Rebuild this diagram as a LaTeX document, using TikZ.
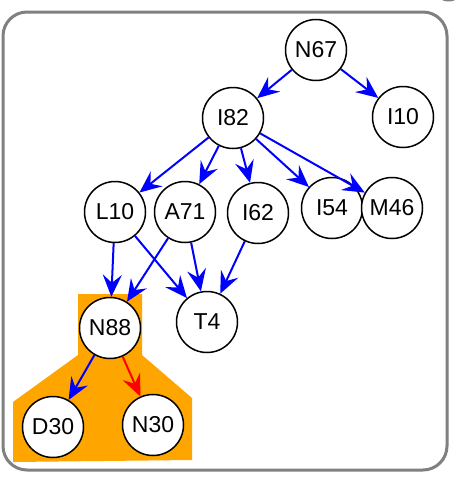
\documentclass[tikz,border=0pt]{standalone}
\usepackage{fontspec}
\setmainfont{Liberation Sans}
\usetikzlibrary{arrows.meta}
\definecolor{hl}{RGB}{255,165,0}
\definecolor{frm}{RGB}{128,128,128}
\begin{document}
\begin{tikzpicture}[x=1pt,y=-1pt,
  vtx/.style={circle,draw=black,line width=1.5pt,fill=white,minimum size=61pt,inner sep=0pt,font=\fontsize{23}{24}\selectfont},
  edg/.style={draw=blue,line width=2pt,-{Stealth[length=22pt,width=19pt,inset=8pt]}},
  redg/.style={edg,draw=red}]
\useasboundingbox (0,0) rectangle (457,490);
\fill[white] (0,0) rectangle (457,490);
\draw[frm,line width=3pt,rounded corners=24pt] (3,12) rectangle (447,470);
\draw[frm,line width=3pt] (443,-1) arc[start angle=110,end angle=55,radius=16];
\fill[hl] (78,294) -- (142,294) -- (142,355) -- (192,398) -- (192,460) -- (13,462) -- (13,402) -- (78,355) -- cycle;
\node[vtx] (N67) at (316,50) {N67};
\node[vtx] (I82) at (233,118) {I82};
\node[vtx] (I10) at (403,117) {I10};
\node[vtx] (L10) at (115,212) {L10};
\node[vtx] (A71) at (185,212) {A71};
\node[vtx] (I62) at (258,213) {I62};
\node[vtx] (I54) at (332,208) {I54};
\node[vtx] (M46) at (392,208) {M46};
\node[vtx] (N88) at (110,328) {N88};
\node[vtx] (T4) at (207,322) {T4};
\node[vtx] (D30) at (53,427) {D30};
\node[vtx] (N30) at (153,425) {N30};
\draw[edg] (N67) -- (I82);
\draw[edg] (N67) -- (I10);
\draw[edg] (I82) -- (L10);
\draw[edg] (I82) -- (A71);
\draw[edg] (I82) -- (I62);
\draw[edg] (I82) -- (I54);
\draw[edg] (I82) -- (M46);
\draw[edg] (L10) -- (N88);
\draw[edg] (L10) -- (T4);
\draw[edg] (A71) -- (N88);
\draw[edg] (A71) -- (T4);
\draw[edg] (I62) -- (T4);
\draw[edg] (N88) -- (D30);
\draw[redg] (N88) -- (N30);
\end{tikzpicture}
\end{document}
